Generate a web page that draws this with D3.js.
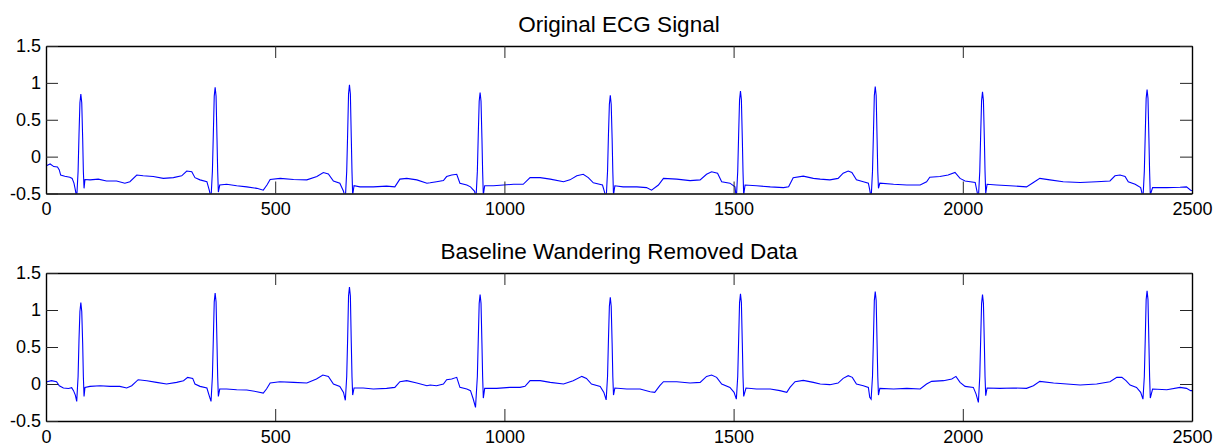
<!DOCTYPE html>
<html>
<head>
<meta charset="utf-8">
<script src="https://cdn.jsdelivr.net/npm/d3@7"></script>
<style>
  html, body { margin: 0; padding: 0; background: #fff; }
  svg { display: block; }
  text { font-family: "Liberation Sans", Arial, sans-serif; fill: #000; }
</style>
</head>
<body>
<svg id="chart" width="1223" height="446"></svg>
<script>
// ---------------- DATA ----------------
const xTicks = [0, 500, 1000, 1500, 2000, 2500];
const xTickLabels = ["0", "500", "1000", "1500", "2000", "2500"];
const yTicks = [-0.5, 0, 0.5, 1, 1.5];
const yTickLabels = ["-0.5", "0", "0.5", "1", "1.5"];
const titles = ["Original ECG Signal", "Baseline Wandering Removed Data"];

// Original ECG signal: sample index and amplitude
const origSamples = [
  0,2,9,17,25,29,32,41,52,57,61,
  64,67,70,72,74,76,78,80,81.5,83,85,
  96,114,132,154,172,183,198,212,234,256,278,296,307,318,325,336,351,
  356,360,363,365,367,369,371,373,374.5,376,379,
  394,416,438,460,474,482,489,511,540,569,591,605,616,627,641,
  649,653,656,658,660,662,664,666,667.5,669,672,
  685,714,743,761,772,787,809,831,838,852,867,874,885,896,903,918,926,
  935,938,941,943,945,947,949,951,952.5,954,957,
  976,998,1020,1041,1056,1078,1100,1129,1143,1158,1172,1183,1194,1214,
  1218,1222,1225,1227,1229,1231,1233,1235,1236.5,1238,1241,
  1259,1289,1310,1321,1336,1347,1376,1405,1427,1441,1452,1465,1474,1492,1503,
  1506,1509,1511,1513,1515,1517,1519,1520.5,1522,1525,
  1550,1580,1609,1620,1630,1652,1674,1689,1710,1728,1739,1750,1758,1768,1783,1794,
  1797,1800,1803,1805,1807,1809,1811,1813,1814.5,1816,1819,
  1849,1878,1907,1921,1928,1950,1968,1983,1994,2005,2027,
  2031,2034,2037,2039,2041,2043,2045,2047,2048.5,2050,2053,
  2074,2103,2139,2154,2168,2190,2219,2256,2292,2321,2332,2343,2354,2361,2376,2388,
  2390,2393,2396,2398,2400,2402,2404,2406,2407.5,2409,2414,
  2445,2474,2488,2497,2500
];
const origValues = [
  -0.12,-0.12,-0.10,-0.135,-0.14,-0.18,-0.25,-0.265,-0.28,-0.295,-0.36,
  -0.45,-0.56,-0.2,0.3,0.73,0.85,0.73,0.25,-0.2,-0.43,-0.31,
  -0.315,-0.305,-0.33,-0.33,-0.36,-0.34,-0.25,-0.26,-0.27,-0.295,-0.285,-0.26,-0.195,-0.205,-0.285,-0.315,-0.34,
  -0.45,-0.56,-0.2,0.3,0.82,0.94,0.82,0.25,-0.2,-0.48,-0.385,
  -0.375,-0.395,-0.41,-0.43,-0.455,-0.385,-0.31,-0.295,-0.31,-0.315,-0.27,-0.215,-0.235,-0.33,-0.36,
  -0.47,-0.57,-0.2,0.3,0.85,0.975,0.85,0.25,-0.2,-0.52,-0.395,
  -0.41,-0.41,-0.40,-0.41,-0.305,-0.295,-0.315,-0.36,-0.355,-0.34,-0.325,-0.27,-0.25,-0.24,-0.36,-0.385,-0.41,
  -0.47,-0.57,-0.2,0.3,0.75,0.87,0.75,0.25,-0.2,-0.52,-0.395,
  -0.395,-0.385,-0.375,-0.375,-0.285,-0.285,-0.305,-0.34,-0.315,-0.26,-0.24,-0.285,-0.355,-0.385,
  -0.47,-0.57,-0.2,0.3,0.71,0.83,0.71,0.25,-0.2,-0.52,-0.395,
  -0.41,-0.41,-0.42,-0.455,-0.385,-0.295,-0.305,-0.325,-0.315,-0.24,-0.205,-0.225,-0.34,-0.36,-0.41,
  -0.57,-0.2,0.3,0.77,0.89,0.77,0.25,-0.2,-0.52,-0.385,
  -0.395,-0.41,-0.42,-0.41,-0.285,-0.265,-0.295,-0.305,-0.315,-0.295,-0.225,-0.195,-0.215,-0.315,-0.34,-0.36,
  -0.45,-0.57,-0.2,0.3,0.83,0.95,0.83,0.25,-0.2,-0.43,-0.36,
  -0.375,-0.385,-0.385,-0.34,-0.28,-0.27,-0.25,-0.215,-0.295,-0.33,-0.35,
  -0.47,-0.57,-0.2,0.3,0.76,0.88,0.76,0.25,-0.2,-0.5,-0.375,
  -0.385,-0.395,-0.41,-0.35,-0.295,-0.315,-0.34,-0.35,-0.34,-0.33,-0.26,-0.25,-0.27,-0.34,-0.375,-0.42,
  -0.47,-0.57,-0.2,0.3,0.79,0.91,0.79,0.25,-0.2,-0.52,-0.42,
  -0.42,-0.415,-0.41,-0.455,-0.46
];

// Baseline-wandering-removed signal: sample index and amplitude
const filtSamples = [
  0,2,12,23,29,38,49,56,60,
  64,67,70,72,74,76,78,80,81.5,83,85,
  96,118,140,161,176,187,201,220,241,263,285,300,309,320,325,336,351,
  356,360,363,365,367,369,371,373,374.5,376,379,
  394,416,438,460,474,481,489,510,540,569,590,604,616,627,641,
  649,653,656,658,660,662,664,666,667.5,669,672,
  692,714,743,761,772,787,809,831,838,852,867,874,885,896,903,918,926,
  932,937,941,943,945,947,949,951,952.5,954,957,
  983,1012,1034,1045,1056,1078,1100,1129,1150,1169,1179,1190,1209,1217,
  1222,1225,1227,1229,1231,1233,1235,1236.5,1238,1241,
  1267,1296,1318,1328,1339,1347,1376,1405,1427,1441,1452,1463,1474,1492,1501,
  1506,1509,1511,1513,1515,1517,1519,1520.5,1522,1527,
  1550,1580,1601,1616,1623,1634,1652,1674,1689,1710,1728,1739,1750,1759,1768,1783,1794,
  1797,1800,1803,1805,1807,1809,1811,1813,1814.5,1816,1819,
  1849,1878,1907,1921,1932,1958,1976,1985,1994,2005,2023,2029,
  2034,2037,2039,2041,2043,2045,2047,2048.5,2050,2053,
  2081,2110,2139,2154,2168,2198,2227,2256,2292,2321,2336,2347,2356,2365,2379,2388,
  2393,2396,2398,2400,2402,2404,2406,2407.5,2409,2414,
  2445,2474,2488,2497,2500
];
const filtValues = [
  0.03,0.03,0.045,0.03,-0.025,-0.055,-0.06,-0.05,-0.09,
  -0.15,-0.235,0.1,0.6,0.98,1.10,0.98,0.55,0.1,-0.167,-0.046,
  -0.032,-0.023,-0.032,-0.032,-0.054,-0.023,0.058,0.045,0.022,0.0,0.022,0.045,0.09,0.076,0.0,-0.032,-0.054,
  -0.158,-0.235,0.1,0.6,1.11,1.23,1.11,0.55,0.1,-0.167,-0.068,
  -0.068,-0.077,-0.082,-0.104,-0.122,-0.068,0.013,0.031,0.022,0.013,0.067,0.121,0.103,0.0,-0.032,
  -0.113,-0.22,0.1,0.6,1.19,1.31,1.19,0.55,0.1,-0.15,-0.054,
  -0.054,-0.068,-0.059,-0.046,0.031,0.045,0.013,-0.023,-0.014,-0.023,0.0,0.058,0.067,0.09,-0.046,-0.068,-0.09,
  -0.203,-0.316,0.1,0.6,1.09,1.21,1.09,0.55,0.1,-0.19,-0.059,
  -0.059,-0.046,-0.046,-0.032,0.045,0.045,0.022,0.0,0.045,0.103,0.076,0.0,-0.032,-0.113,
  -0.215,0.1,0.6,1.05,1.17,1.05,0.55,0.1,-0.15,-0.054,
  -0.068,-0.068,-0.104,-0.113,-0.023,0.031,0.031,0.013,0.022,0.103,0.121,0.09,0.0,-0.046,-0.113,
  -0.205,0.1,0.6,1.10,1.22,1.10,0.55,0.1,-0.167,-0.054,
  -0.068,-0.068,-0.09,-0.113,-0.046,0.031,0.049,0.022,0.0,-0.009,0.013,0.076,0.112,0.09,0.0,-0.023,-0.046,
  -0.181,-0.205,0.1,0.6,1.13,1.25,1.13,0.55,0.1,-0.15,-0.059,
  -0.068,-0.059,-0.068,0.0,0.036,0.045,0.067,0.103,0.022,-0.032,-0.046,-0.136,
  -0.248,0.1,0.6,1.09,1.21,1.09,0.55,0.1,-0.158,-0.054,
  -0.059,-0.054,-0.059,-0.023,0.036,0.013,0.0,-0.014,0.0,0.031,0.09,0.09,0.045,-0.014,-0.046,-0.113,
  -0.205,0.1,0.6,1.14,1.26,1.14,0.55,0.1,-0.19,-0.068,
  -0.077,-0.046,-0.059,-0.09,-0.09
];

// ---------------- DRAWING ----------------
const svg = d3.select("#chart");
const panels = [
  { title: titles[0], xs: origSamples, ys: origValues, top: 46, bottom: 193.5 },
  { title: titles[1], xs: filtSamples, ys: filtValues, top: 273, bottom: 421 }
];
const left = 46, right = 1192;

panels.forEach((p, i) => {
  const x = d3.scaleLinear().domain([0, 2500]).range([left, right]);
  const y = d3.scaleLinear().domain([-0.5, 1.5]).range([p.bottom, p.top]);
  const g = svg.append("g");

  g.append("clipPath").attr("id", "clip" + i)
    .append("rect").attr("x", left).attr("y", p.top)
    .attr("width", right - left).attr("height", p.bottom - p.top);

  const pts = p.xs.map((s, k) => [s, p.ys[k]]);
  g.append("path")
    .datum(pts)
    .attr("clip-path", "url(#clip" + i + ")")
    .attr("fill", "none")
    .attr("stroke", "#0000ff")
    .attr("stroke-width", 1.1)
    .attr("d", d3.line().x(d => x(d[0])).y(d => y(d[1])));

  const styleAxis = sel => {
    sel.selectAll(".tick line").attr("stroke", "#262626").attr("stroke-width", 1);
    sel.select(".domain").attr("stroke", "#000").attr("stroke-width", 1.4);
    sel.selectAll("text").attr("font-size", 18)
      .attr("font-family", "'Liberation Sans', Arial, sans-serif").attr("fill", "#000");
  };

  g.append("g").attr("transform", `translate(0,${p.bottom})`)
    .call(d3.axisBottom(x).tickValues(xTicks).tickFormat((d, k) => xTickLabels[k])
      .tickSizeInner(-12).tickSizeOuter(0).tickPadding(9))
    .call(styleAxis);
  g.append("g").attr("transform", `translate(0,${p.top})`)
    .call(d3.axisTop(x).tickValues(xTicks).tickFormat("")
      .tickSizeInner(-12).tickSizeOuter(0))
    .call(styleAxis);
  g.append("g").attr("transform", `translate(${left},0)`)
    .call(d3.axisLeft(y).tickValues(yTicks).tickFormat((d, k) => yTickLabels[k])
      .tickSizeInner(-12).tickSizeOuter(0).tickPadding(5))
    .call(styleAxis);
  g.append("g").attr("transform", `translate(${right},0)`)
    .call(d3.axisRight(y).tickValues(yTicks).tickFormat("")
      .tickSizeInner(-12).tickSizeOuter(0))
    .call(styleAxis);

  g.append("text")
    .attr("x", (left + right) / 2)
    .attr("y", p.top - 14)
    .attr("text-anchor", "middle")
    .attr("font-size", 22.5)
    .text(p.title);
});
</script>
</body>
</html>
